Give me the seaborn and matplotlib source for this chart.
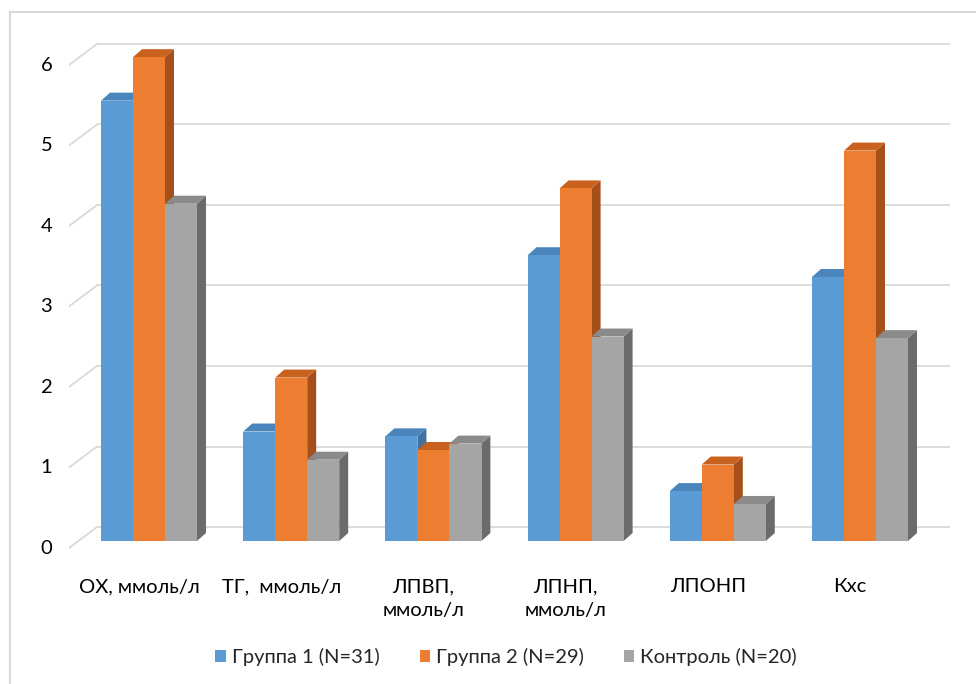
import matplotlib
matplotlib.use("Agg")
import matplotlib.pyplot as plt
import matplotlib.transforms as mtransforms
from matplotlib.patches import Polygon
from matplotlib.lines import Line2D
import seaborn as sns
import pandas as pd

categories = ["ОХ, ммоль/л", "ТГ,  ммоль/л", "ЛПВП,\nммоль/л", "ЛПНП,\nммоль/л", "ЛПОНП", "Кхс"]
series_names = ["Группа 1 (N=31)", "Группа 2 (N=29)", "Контроль (N=20)"]
group1 = [5.47, 1.36, 1.30, 3.55, 0.62, 3.28]
group2 = [6.01, 2.03, 1.13, 4.38, 0.95, 4.85]
control = [4.19, 1.01, 1.21, 2.54, 0.46, 2.52]
yticks = [0, 1, 2, 3, 4, 5, 6]

front_colors = ["#5B9BD5", "#ED7D31", "#A5A5A5"]
side_colors = ["#41719C", "#A5501A", "#6B6B6B"]
top_colors = ["#4A85BC", "#C8621E", "#8A8A8A"]

rows = []
for name, vals in zip(series_names, [group1, group2, control]):
    for c, v in zip(categories, vals):
        rows.append({"cat": c, "series": name, "value": v})
df = pd.DataFrame(rows)

sns.set_theme(style="white")
plt.rcParams["font.family"] = ["Lato", "DejaVu Sans"]

W, H = 976, 684
fig = plt.figure(figsize=(W / 100, H / 100), dpi=100)

# pixel geometry of axes
ax_l, ax_r, ax_t, ax_b = 69, 950, 30, 560
ax = fig.add_axes([ax_l / W, 1 - ax_b / H, (ax_r - ax_l) / W, (ax_b - ax_t) / H])
px_x = 142.2  # px per category unit
px_y = 80.5   # px per value unit
x0_px, y0_px = 149, 541

def dx(p):
    return p / px_x

def dy(p):
    return p / px_y

# back wall gridlines with perspective diagonals
for v in yticks:
    yb = v + dy(14)
    xl_front = (69 - x0_px) / px_x
    xl_back = (97 - x0_px) / px_x
    xr_back = (950 - x0_px) / px_x
    ax.add_line(Line2D([xl_front, xl_back], [v - dy(7), yb], color="#D9D9D9", lw=1.3, zorder=0.5))
    ax.add_line(Line2D([xl_back, xr_back], [yb, yb], color="#D9D9D9", lw=1.3, zorder=0.5))

sns.barplot(data=df, x="cat", y="value", hue="series", order=categories,
            hue_order=series_names, palette=front_colors, width=0.675,
            gap=0, saturation=1, edgecolor="none", linewidth=0, ax=ax, zorder=3)

ax.set_xlim((ax_l - x0_px) / px_x, (ax_r - x0_px) / px_x)
ax.set_ylim((y0_px - ax_b) / px_y, (y0_px - ax_t) / px_y)

# 3D side and top faces derived from the bar patches
ddx, ddy = dx(9), dy(8)
bars = [p for p in ax.patches if p.get_height() > 0]
for i, p in enumerate(bars):
    s = i // len(categories)
    x, w, h = p.get_x(), p.get_width(), p.get_height()
    side = Polygon([[x + w, 0], [x + w + ddx, ddy], [x + w + ddx, h + ddy], [x + w, h]],
                   closed=True, facecolor=side_colors[s], edgecolor="none", zorder=2.5)
    top = Polygon([[x, h], [x + ddx, h + ddy], [x + w + ddx, h + ddy], [x + w, h]],
                  closed=True, facecolor=top_colors[s], edgecolor="none", zorder=2.5)
    ax.add_patch(side)
    ax.add_patch(top)

for sp in ax.spines.values():
    sp.set_visible(False)
ax.set_xlabel("")
ax.set_ylabel("")
ax.set_yticks(yticks)
ax.set_yticklabels([str(t) for t in yticks])
ax.tick_params(axis="y", length=0, pad=12, labelsize=14.5, labelcolor="#000000")
ax.tick_params(axis="x", length=0, pad=13, labelsize=14.5, labelcolor="#000000")
off_y = mtransforms.ScaledTranslation(0, -6 / 100, fig.dpi_scale_trans)
for lab in ax.get_yticklabels():
    lab.set_transform(lab.get_transform() + off_y)
off_x = mtransforms.ScaledTranslation(-10 / 100, 0, fig.dpi_scale_trans)
for lab in ax.get_xticklabels():
    lab.set_transform(lab.get_transform() + off_x)
    lab.set_linespacing(1.5)

ax.legend_.remove()
handles = [plt.Rectangle((0, 0), 1, 1, facecolor=c, edgecolor="none") for c in front_colors]
fig.legend(handles, series_names, loc="center", bbox_to_anchor=(506 / W, 1 - 657 / H),
           ncol=3, frameon=False, fontsize=14.5, handlelength=0.5, handleheight=0.5,
           handletextpad=0.3, columnspacing=2.0)

# outer chart border (top and left)
fig.add_artist(Line2D([10 / W, 1], [1 - 12 / H, 1 - 12 / H], color="#D9D9D9", lw=1.5,
                      transform=fig.transFigure))
fig.add_artist(Line2D([10 / W, 10 / W], [0, 1 - 12 / H], color="#D9D9D9", lw=1.5,
                      transform=fig.transFigure))

fig.savefig("out.png", dpi=100, facecolor="white")
